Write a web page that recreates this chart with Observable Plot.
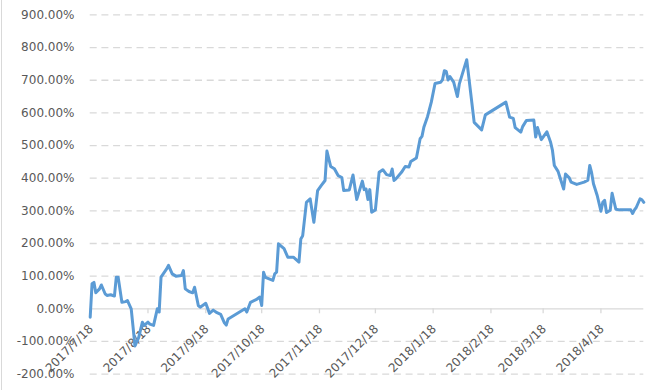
<!DOCTYPE html>
<html>
<head>
<meta charset="utf-8">
<script src="https://cdn.jsdelivr.net/npm/d3@7"></script>
<script src="https://cdn.jsdelivr.net/npm/@observablehq/plot@0.6"></script>
<style>
  html, body { margin: 0; padding: 0; background: #ffffff; }
  #chart { width: 654px; height: 390px; }
</style>
</head>
<body>
<div id="chart"></div>
<script>
// Dates of the series (trading-day vertices)
const dates = [
  "2017-07-18","2017-07-19","2017-07-20","2017-07-21","2017-07-23","2017-07-24","2017-07-26","2017-07-27","2017-07-29","2017-07-31",
  "2017-08-01","2017-08-02","2017-08-04","2017-08-06","2017-08-07","2017-08-09","2017-08-10","2017-08-11","2017-08-13","2017-08-15",
  "2017-08-16","2017-08-18","2017-08-19","2017-08-21","2017-08-23","2017-08-24","2017-08-25","2017-08-28","2017-08-29","2017-08-31",
  "2017-09-02","2017-09-05","2017-09-06","2017-09-07","2017-09-09","2017-09-11","2017-09-12","2017-09-14","2017-09-15","2017-09-18",
  "2017-09-20","2017-09-22","2017-09-24","2017-09-26","2017-09-28","2017-09-29","2017-09-30","2017-10-09","2017-10-10","2017-10-12",
  "2017-10-15","2017-10-17","2017-10-18","2017-10-19","2017-10-20","2017-10-24","2017-10-25","2017-10-26","2017-10-27","2017-10-30",
  "2017-11-01","2017-11-04","2017-11-07","2017-11-08","2017-11-09","2017-11-11","2017-11-13","2017-11-15","2017-11-17","2017-11-19",
  "2017-11-21","2017-11-22","2017-11-24","2017-11-26","2017-11-28","2017-11-30","2017-12-01","2017-12-04","2017-12-06","2017-12-08",
  "2017-12-11","2017-12-12","2017-12-13","2017-12-14","2017-12-15","2017-12-16","2017-12-18","2017-12-20","2017-12-22","2017-12-24",
  "2017-12-26","2017-12-27","2017-12-28","2017-12-29","2018-01-01","2018-01-03","2018-01-05","2018-01-06","2018-01-09","2018-01-11",
  "2018-01-12","2018-01-13","2018-01-15","2018-01-17","2018-01-19","2018-01-22","2018-01-23","2018-01-24","2018-01-25","2018-01-26",
  "2018-01-27","2018-01-29","2018-01-31","2018-02-01","2018-02-05","2018-02-09","2018-02-13","2018-02-15","2018-02-26","2018-02-28",
  "2018-03-02","2018-03-03","2018-03-06","2018-03-07","2018-03-09","2018-03-13","2018-03-14","2018-03-15","2018-03-17","2018-03-20",
  "2018-03-22","2018-03-23","2018-03-24","2018-03-26","2018-03-27","2018-03-29","2018-03-30","2018-04-01","2018-04-02","2018-04-05",
  "2018-04-09","2018-04-11","2018-04-12","2018-04-13","2018-04-14","2018-04-16","2018-04-18","2018-04-19","2018-04-20","2018-04-21",
  "2018-04-23","2018-04-24","2018-04-26","2018-04-28","2018-05-04","2018-05-05","2018-05-06","2018-05-07","2018-05-09","2018-05-10",
  "2018-05-11"
];
// Cumulative return, in percent
const values = [
  -26, 77, 81, 49, 61, 73, 46, 41, 43, 39,
  97, 97, 20, 22, 25, 0, -56, -114, -88, -41,
  -51, -41, -47, -51, 0, -10, 97, 122, 133, 107,
  100, 102, 117, 61, 53, 49, 66, 10, 5, 17,
  -14, -4, -12, -17, -43, -50, -31, 0, -10, 20,
  28, 36, 10, 112, 96, 87, 107, 112, 199, 184,
  158, 158, 143, 214, 224, 326, 337, 265, 362, 378,
  393, 483, 436, 429, 408, 402, 362, 364, 410, 335,
  391, 365, 367, 335, 365, 296, 303, 418, 426, 411,
  408, 428, 393, 398, 418, 436, 434, 451, 462, 521,
  528, 556, 589, 633, 690, 694, 701, 729, 727, 701,
  711, 694, 650, 688, 763, 571, 548, 594, 633, 587,
  583, 555, 541, 558, 577, 578, 526, 555, 518, 542,
  510, 485, 439, 421, 403, 367, 413, 401, 388, 381,
  388, 394, 439, 417, 383, 347, 299, 326, 332, 295,
  302, 354, 305, 303, 303, 292, 303, 311, 337, 334,
  326
];
const xTickLabels = ["2017/7/18","2017/8/18","2017/9/18","2017/10/18","2017/11/18","2017/12/18","2018/1/18","2018/2/18","2018/3/18","2018/4/18"];
const yTicks = [-200, -100, 0, 100, 200, 300, 400, 500, 600, 700, 800, 900];

const parseSlash = s => { const [y, m, d] = s.split("/").map(Number); return new Date(Date.UTC(y, m - 1, d)); };
const data = dates.map((d, i) => ({date: new Date(d), value: values[i]}));
const xTicks = xTickLabels.map(parseSlash);
const fmtPct = v => v.toFixed(2) + "%";

const grid = "#d9d9d9";
const chart = Plot.plot({
  width: 654,
  height: 390,
  marginLeft: 89.7,
  marginRight: 10.7,
  marginTop: 14.45,
  marginBottom: 16.4,
  style: {fontFamily: "DejaVu Sans", fontSize: "12px", color: "#595959", background: "#ffffff", overflow: "visible"},
  x: {type: "utc", domain: [new Date(dates[0]), new Date(dates[dates.length - 1])], axis: null},
  y: {domain: [-200, 900], axis: null},
  marks: [
    Plot.ruleY(yTicks.filter(v => v !== 0), {stroke: grid, strokeWidth: 1.3, strokeDasharray: "7,4.7"}),
    Plot.ruleY([0], {stroke: grid, strokeWidth: 1.3}),
    Plot.ruleX(xTicks, {x: d => d, y1: () => 0, y2: () => 0, insetBottom: -5, stroke: grid, strokeWidth: 1.3}),
    Plot.text(yTicks, {frameAnchor: "left", y: d => d, text: fmtPct, textAnchor: "end", lineAnchor: "middle", dx: -15.7, fill: "#595959"}),
    Plot.text(xTicks, {x: d => d, y: () => 0, text: (d, i) => xTickLabels[i], rotate: -45, textAnchor: "end", lineAnchor: "middle", dx: 1, dy: 18, fill: "#595959"}),
    Plot.line(data, {x: "date", y: "value", stroke: "#5b9bd5", strokeWidth: 3, strokeLinejoin: "round", strokeLinecap: "round"})
  ]
});
d3.select(chart).append("line")
  .attr("x1", 1.5).attr("x2", 1.5).attr("y1", 0).attr("y2", 390)
  .attr("stroke", grid).attr("stroke-width", 1);
document.getElementById("chart").appendChild(chart);
</script>
</body>
</html>
